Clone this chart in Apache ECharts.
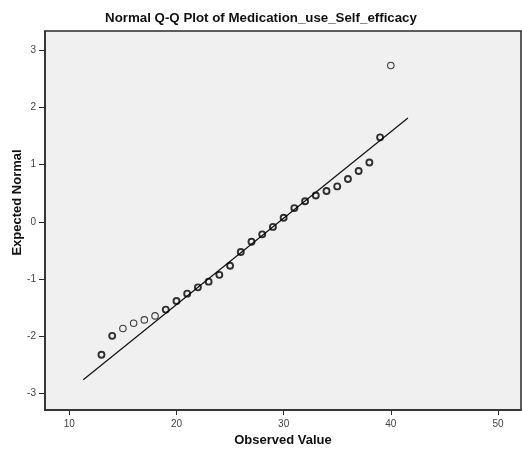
<!DOCTYPE html>
<html>
<head>
<meta charset="utf-8">
<script src="https://cdn.jsdelivr.net/npm/echarts@6/dist/echarts.min.js"></script>
<style>html,body{margin:0;padding:0;background:#fff}#c{width:522px;height:454px}</style>
</head>
<body>
<div id="c"></div>
<script>
// Observed values and expected normal scores (bold = repeated cases, thin = single cases)
const boldX = [13, 14, 19, 20, 21, 22, 23, 24, 25, 26, 27, 28, 29, 30, 31, 32, 33, 34, 35, 36, 37, 38, 39];
const boldY = [-2.33, -2.0, -1.54, -1.39, -1.26, -1.15, -1.05, -0.93, -0.77, -0.53, -0.35, -0.22, -0.09, 0.07, 0.24, 0.36, 0.46, 0.54, 0.62, 0.75, 0.89, 1.04, 1.48];
const thinX = [15, 16, 17, 18, 40];
const thinY = [-1.87, -1.78, -1.72, -1.65, 2.74];
// Reference line endpoints
const lineX = [11.3, 41.6];
const lineY = [-2.77, 1.82];
const xTicks = [10, 20, 30, 40, 50];
const yTicks = [-3, -2, -1, 0, 1, 2, 3];

const pair = (xs, ys) => xs.map((x, i) => [x, ys[i]]);
const font = 'Liberation Sans, Arial, sans-serif';
const chart = echarts.init(document.getElementById('c'), null, {renderer: 'canvas'});
chart.setOption({
  animation: false,
  backgroundColor: '#ffffff',
  title: {
    text: 'Normal Q-Q Plot of Medication_use_Self_efficacy',
    left: 'center', top: 7,
    textStyle: {fontFamily: font, fontSize: 13.3, fontWeight: 'bold', color: '#111'}
  },
  grid: {
    left: 45, right: 1, top: 31, bottom: 44,
    outerBoundsMode: 'none', containLabel: false,
    show: true, backgroundColor: '#f0f0f0', borderColor: '#2a2a2a', borderWidth: 1.5
  },
  xAxis: {
    type: 'value', min: 7.73, max: 52.15,
    name: 'Observed Value', nameLocation: 'middle', nameGap: 22,
    nameTextStyle: {fontFamily: font, fontSize: 13, fontWeight: 'bold', color: '#111'},
    splitLine: {show: false},
    axisLine: {show: true, onZero: false, lineStyle: {color: '#2a2a2a', width: 1.5}},
    axisTick: {show: true, length: 5, customValues: xTicks, lineStyle: {color: '#2a2a2a'}},
    axisLabel: {customValues: xTicks, fontFamily: font, fontSize: 10, color: '#444', margin: 9}
  },
  yAxis: {
    type: 'value', min: -3.30, max: 3.345,
    name: 'Expected Normal', nameLocation: 'middle', nameGap: 21, nameRotate: 90,
    nameMoveOverlap: false,
    nameTextStyle: {fontFamily: font, fontSize: 13, fontWeight: 'bold', color: '#111', padding: [0, 0, 0, 36]},
    splitLine: {show: false},
    axisLine: {show: true, onZero: false, lineStyle: {color: '#2a2a2a', width: 1.5}},
    axisTick: {show: true, length: 6, customValues: yTicks, lineStyle: {color: '#2a2a2a'}},
    axisLabel: {customValues: yTicks, fontFamily: font, fontSize: 10, color: '#444', margin: 9}
  },
  series: [
    {
      type: 'line', data: pair(lineX, lineY), symbol: 'none',
      lineStyle: {color: '#111', width: 1.2}, z: 2
    },
    {
      type: 'scatter', data: pair(boldX, boldY), symbol: 'circle', symbolSize: 6,
      itemStyle: {color: 'rgba(0,0,0,0)', borderColor: '#000', borderWidth: 1.9}, z: 3
    },
    {
      type: 'scatter', data: pair(thinX, thinY), symbol: 'circle', symbolSize: 6.5,
      itemStyle: {color: 'rgba(0,0,0,0)', borderColor: '#111', borderWidth: 1.1}, z: 3
    }
  ]
});
</script>
</body>
</html>
